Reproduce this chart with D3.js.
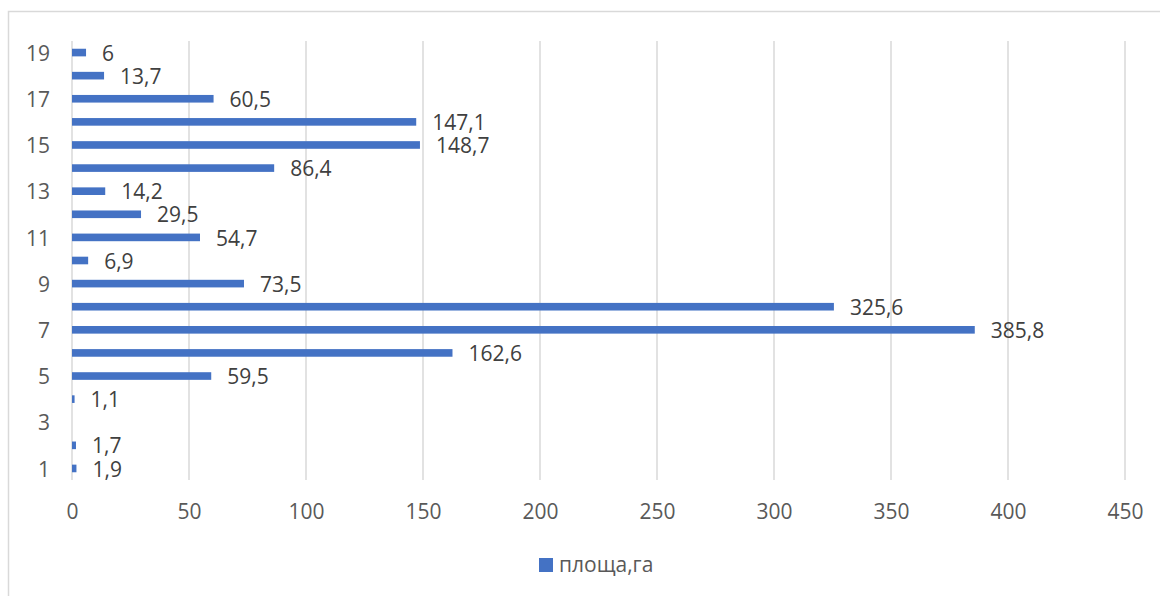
<!DOCTYPE html>
<html>
<head>
<meta charset="utf-8">
<script src="https://cdn.jsdelivr.net/npm/d3@7"></script>
<style>
  body { margin: 0; background: #fff; }
  text { font-family: "Open Sans", sans-serif; }
</style>
</head>
<body>
<div id="chart"></div>
<script>
// category numbers (bottom to top) and area values, ha
const categories = ["1","2","3","4","5","6","7","8","9","10","11","12","13","14","15","16","17","18","19"];
const values = [1.9, 1.7, null, 1.1, 59.5, 162.6, 385.8, 325.6, 73.5, 6.9, 54.7, 29.5, 14.2, 86.4, 148.7, 147.1, 60.5, 13.7, 6];
const xTicks = [0, 50, 100, 150, 200, 250, 300, 350, 400, 450];
const seriesName = "площа,га";

const width = 1160, height = 596;
const margin = {top: 41, right: 35, bottom: 116, left: 72};

const data = categories.map((c, i) => ({cat: c, value: values[i]}));

const svg = d3.select("#chart")
  .append("svg")
  .attr("width", width)
  .attr("height", height);

// chart frame
svg.append("rect")
  .attr("x", 8.5).attr("y", 11.5)
  .attr("width", width + 20).attr("height", height + 20)
  .attr("fill", "none")
  .attr("stroke", "#d9d9d9")
  .attr("stroke-width", 1.5);

let xScale = d3.scaleLinear()
  .domain([0, 450])
  .range([margin.left, width - margin.right]);

let yScale = d3.scaleBand()
  .domain(categories)
  .range([height - margin.bottom, margin.top])
  .paddingInner(0.67)
  .paddingOuter(0.335);

// gridlines
svg.append("g")
  .selectAll("line")
  .data(xTicks)
  .join("line")
    .attr("x1", d => xScale(d)).attr("x2", d => xScale(d))
    .attr("y1", margin.top).attr("y2", height - margin.bottom)
    .attr("stroke", "#d9d9d9")
    .attr("stroke-width", 1.5);

// x axis labels
const xAxis = svg.append("g")
  .attr("transform", `translate(0,${height - margin.bottom})`)
  .call(d3.axisBottom(xScale).tickValues(xTicks).tickSize(0).tickPadding(24));
xAxis.select(".domain").remove();
xAxis.selectAll("text")
  .attr("font-size", "21px")
  .attr("font-family", "Open Sans, sans-serif")
  .attr("fill", "#595959");

// y axis labels (every second category)
const yAxis = svg.append("g")
  .attr("transform", `translate(${margin.left},1.5)`)
  .call(d3.axisLeft(yScale)
    .tickValues(categories.filter((c, i) => i % 2 === 0))
    .tickSize(0).tickPadding(22));
yAxis.select(".domain").remove();
yAxis.selectAll("text")
  .attr("font-size", "21px")
  .attr("font-family", "Open Sans, sans-serif")
  .attr("fill", "#595959");

const shown = data.filter(d => d.value !== null);

// bars
svg.selectAll(".bar")
  .data(shown)
  .enter()
  .append("rect")
    .attr("class", "bar")
    .attr("x", xScale(0))
    .attr("y", d => yScale(d.cat))
    .attr("width", d => xScale(d.value) - xScale(0))
    .attr("height", yScale.bandwidth())
    .attr("fill", "#4472c4");

// value labels
svg.selectAll(".label")
  .data(shown)
  .enter()
  .append("text")
    .attr("class", "label")
    .attr("x", d => xScale(d.value) + 16)
    .attr("y", d => yScale(d.cat) + yScale.bandwidth() / 2 + 2.5)
    .attr("dominant-baseline", "middle")
    .attr("font-size", "21px")
    .attr("fill", "#404040")
    .text(d => String(d.value).replace(".", ","));

// legend
const legend = svg.append("g");
legend.append("rect")
  .attr("x", 539).attr("y", 558)
  .attr("width", 14).attr("height", 14)
  .attr("fill", "#4472c4");
legend.append("text")
  .attr("x", 559).attr("y", 566)
  .attr("dominant-baseline", "middle")
  .attr("font-size", "21px")
  .attr("fill", "#595959")
  .text(seriesName);
</script>
</body>
</html>
